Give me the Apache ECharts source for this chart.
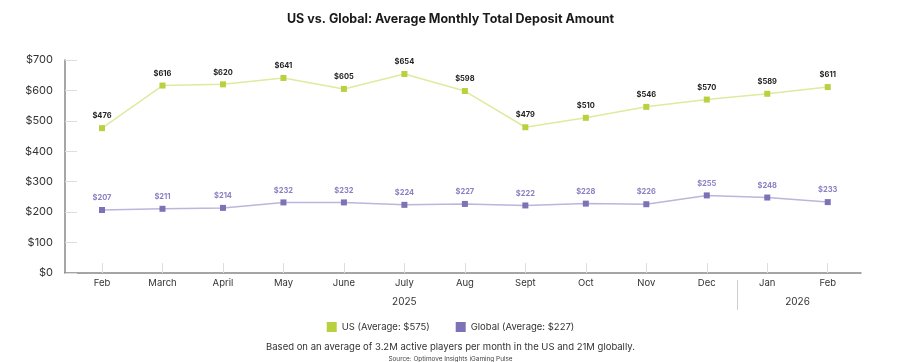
<!DOCTYPE html>
<html><head><meta charset="utf-8">
<script src="https://cdn.jsdelivr.net/npm/echarts@6/dist/echarts.min.js"></script>
<style>html,body{margin:0;padding:0;background:#fff}#c{width:901px;height:362px}</style>
</head><body><div id="c"></div>
<script>
const months = ['Feb','March','April','May','June','July','Aug','Sept','Oct','Nov','Dec','Jan','Feb'];
const usValues = [476, 616, 620, 641, 605, 654, 598, 479, 510, 546, 570, 589, 611];
const globalValues = [207, 211, 214, 232, 232, 224, 227, 222, 228, 226, 255, 248, 233];
const years = ['2025', '2026'];
const yearMonthCounts = [11, 2];
const usName = 'US (Average: $575)';
const globalName = 'Global (Average: $227)';
const titleText = 'US vs. Global: Average Monthly Total Deposit Amount';
const noteText = 'Based on an average of 3.2M active players per month in the US and 21M globally.';
const sourceText = 'Source: Optimove Insights iGaming Pulse';

const FONT = 'Inter, "Noto Sans", sans-serif';
const idx = months.map((m, i) => i);
const yearCenters = [], yearSeps = [];
let start = 0;
yearMonthCounts.forEach((n, k) => {
  yearCenters.push(start + (n - 1) / 2);
  if (k < yearMonthCounts.length - 1) yearSeps.push(start + n - 0.5);
  start += n;
});
const XMIN = -0.612, XMAX = 12.55;

const chart = echarts.init(document.getElementById('c'));
chart.setOption({
  animation: false,
  title: [
    {text: titleText, left: 'center', top: 8, textStyle: {fontFamily: FONT, fontSize: 12.5, fontWeight: 'bold', color: '#1a1a1a'}},
    {text: noteText, left: 'center', top: 337, textStyle: {fontFamily: FONT, fontSize: 9.5, fontWeight: 'normal', color: '#333'}},
    {text: sourceText, left: 'center', top: 351, textStyle: {fontFamily: FONT, fontSize: 6.4, fontWeight: 'normal', color: '#444'}}
  ],
  legend: {
    top: 317, left: 'center', itemGap: 26, itemWidth: 10, itemHeight: 10, icon: 'rect',
    textStyle: {fontFamily: FONT, fontSize: 9.5, color: '#333'},
    data: [usName, globalName]
  },
  grid: {left: 65, right: 40, top: 60, bottom: 89},
  xAxis: [{
    type: 'value', min: XMIN, max: XMAX,
    axisLine: {show: true, lineStyle: {color: '#888', width: 1.5}},
    axisTick: {show: true, inside: true, length: 10, customValues: idx, lineStyle: {color: '#ddd'}},
    axisLabel: {customValues: idx, formatter: v => months[Math.round(v)], margin: 5,
      fontFamily: FONT, fontSize: 9.5, color: '#333'},
    splitLine: {show: false}
  }, {
    type: 'value', min: XMIN, max: XMAX, position: 'bottom', offset: 7,
    axisLine: {show: false},
    axisTick: {show: true, inside: false, length: 30, customValues: yearSeps, lineStyle: {color: '#ccc'}},
    axisLabel: {customValues: yearCenters, formatter: v => years[yearCenters.indexOf(v)], margin: 17,
      fontFamily: FONT, fontSize: 10, color: '#333'},
    splitLine: {show: false}
  }],
  yAxis: {
    type: 'value', min: 0, max: 700, interval: 100,
    axisLine: {show: true, onZero: false, lineStyle: {color: '#888', width: 1.5}},
    axisTick: {show: true, inside: true, length: 12, lineStyle: {color: '#ddd'}},
    axisLabel: {formatter: v => '$' + v, margin: 12, fontFamily: FONT, fontSize: 11, color: '#333'},
    splitLine: {show: false}
  },
  series: [{
    name: usName, type: 'line',
    data: usValues.map((v, i) => [i, v]),
    symbol: 'rect', symbolSize: 6,
    itemStyle: {color: '#b9d03f'},
    lineStyle: {color: '#e0ea9e', width: 1.5},
    label: {show: true, position: 'top', distance: 5, formatter: p => '$' + p.value[1],
      fontFamily: FONT, fontSize: 7.5, fontWeight: 'bold', color: '#222'}
  }, {
    name: globalName, type: 'line',
    data: globalValues.map((v, i) => [i, v]),
    symbol: 'rect', symbolSize: 6,
    itemStyle: {color: '#7d72b6'},
    lineStyle: {color: '#bcb5dc', width: 1.5},
    label: {show: true, position: 'top', distance: 5, formatter: p => '$' + p.value[1],
      fontFamily: FONT, fontSize: 7.5, fontWeight: 'bold', color: '#8a80c2'}
  }]
});
</script></body></html>
